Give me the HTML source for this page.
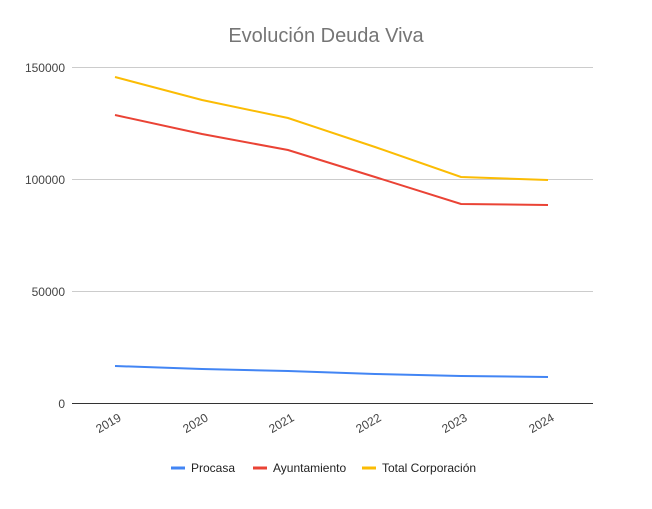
<!DOCTYPE html>
<html><head><meta charset="utf-8"><style>body{margin:0;background:#fff}</style></head>
<body>
<svg width="652" height="504" xmlns="http://www.w3.org/2000/svg" font-family="Liberation Sans, sans-serif">
<rect width="652" height="504" fill="#fff"/>
<text x="326" y="42" text-anchor="middle" font-size="20" fill="#757575">Evolución Deuda Viva</text>
<g stroke="#cccccc" stroke-width="1">
<line x1="72" y1="67.5" x2="593" y2="67.5"/>
<line x1="72" y1="179.5" x2="593" y2="179.5"/>
<line x1="72" y1="291.5" x2="593" y2="291.5"/>
</g>
<line x1="72" y1="403.5" x2="593" y2="403.5" stroke="#333" stroke-width="1"/>
<g font-size="12" fill="#444" text-anchor="end">
<text x="65" y="72">150000</text>
<text x="65" y="184">100000</text>
<text x="65" y="296">50000</text>
<text x="65" y="408">0</text>
</g>
<g font-size="12" fill="#444" text-anchor="end">
<text transform="translate(122,420) rotate(-30)">2019</text>
<text transform="translate(209,420) rotate(-30)">2020</text>
<text transform="translate(295,420) rotate(-30)">2021</text>
<text transform="translate(382,420) rotate(-30)">2022</text>
<text transform="translate(468,420) rotate(-30)">2023</text>
<text transform="translate(555,420) rotate(-30)">2024</text>
</g>
<g fill="none" stroke-width="2">
<polyline stroke="#fbbc04" points="115,77 202,100 288,118 375,147 461,177 548,180"/>
<polyline stroke="#ea4335" points="115,115 202,134 288,150 375,177 461,204 548,205"/>
<polyline stroke="#4285f4" points="115,366 202,369 288,371 375,374 461,376 548,377"/>
</g>
<g font-size="12" fill="#222">
<line x1="171" y1="468" x2="185" y2="468" stroke="#4285f4" stroke-width="3"/>
<text x="191" y="472">Procasa</text>
<line x1="253" y1="468" x2="267" y2="468" stroke="#ea4335" stroke-width="3"/>
<text x="273" y="472">Ayuntamiento</text>
<line x1="362" y1="468" x2="376" y2="468" stroke="#fbbc04" stroke-width="3"/>
<text x="382" y="472">Total Corporación</text>
</g>
</svg>
</body></html>
